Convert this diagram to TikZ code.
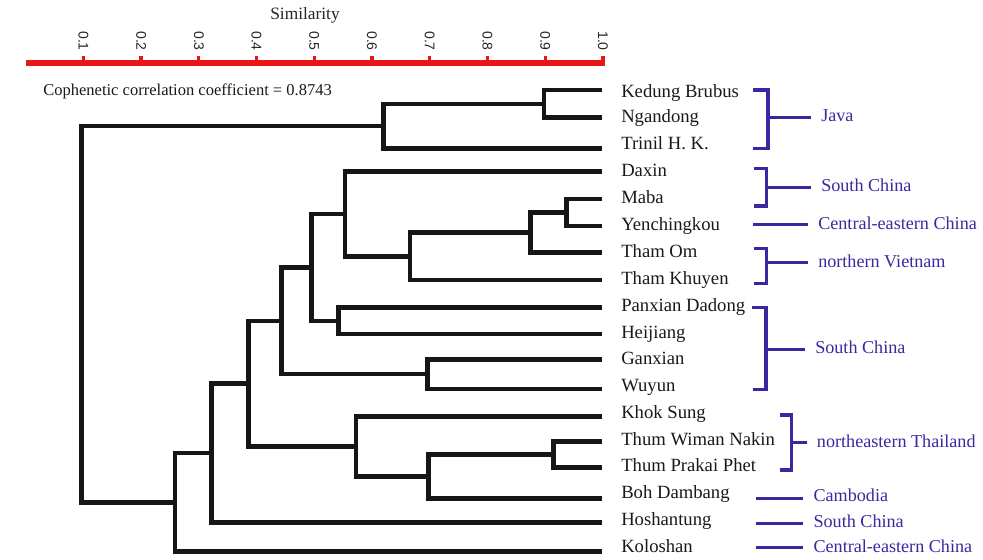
\documentclass[tikz,border=0pt]{standalone}
\usepackage{fontspec}
\setmainfont{Liberation Serif}
\newfontfamily\axisfont{Liberation Sans}
\definecolor{dendro}{RGB}{22,22,22}
\definecolor{axisred}{RGB}{232,22,22}
\definecolor{regblue}{RGB}{58,40,160}
\begin{document}
\begin{tikzpicture}[x=0.75pt,y=-0.75pt,
  tree/.style={draw=dendro,line width=3.4pt,line join=miter},
  axisline/.style={draw=axisred,line width=4.5pt},
  axistick/.style={draw=axisred,line width=2.4pt},
  ticklabel/.style={rotate=-90,font=\axisfont\fontsize{10.5}{12}\selectfont,inner sep=0pt,text=black!85},
  leaflabel/.style={anchor=west,font=\fontsize{14}{16}\selectfont,inner sep=0pt,text height=9.5pt,text depth=3pt,text=black!90},
  region/.style={anchor=west,font=\fontsize{13.6}{16}\selectfont,inner ysep=0pt,inner xsep=7.5pt,text height=9.5pt,text depth=3pt,text=regblue},
  bracket/.style={draw=regblue,line width=2.3pt,line join=miter}]
\useasboundingbox (0,0) rectangle (983,560);

% axis
\node[font=\fontsize{13}{15}\selectfont,text=black!85] (simtitle) at (305,15) {Similarity};
\coordinate (ax0) at (26,63.3);
\coordinate (ax1) at (604.5,63.3);
\draw[axisline] (ax0) -- (ax1);
\foreach \s/\t in {1/0.1,2/0.2,3/0.3,4/0.4,5/0.5,6/0.6,7/0.7,8/0.8,9/0.9,10/1.0}{
  \pgfmathsetmacro{\xx}{25.6+57.74*\s}
  \draw[axistick] (\xx,63) -- (\xx,56);
  \node[ticklabel] (tl\s) at (\xx,41) {\t};
}
\node[anchor=west,inner sep=0pt,font=\fontsize{12.4}{14}\selectfont,text=black!90] (coph) at (43,91.5) {Cophenetic correlation coefficient = 0.8743};

% leaves
\foreach \i/\ly/\ty/\name in {
 1/90/93/Kedung Brubus, 2/117.7/118/Ngandong, 3/148.3/145/Trinil H. K.,
 4/171.7/172/Daxin, 5/199/199/Maba, 6/226/226/Yenchingkou,
 7/252.7/253/Tham Om, 8/280/280/Tham Khuyen, 9/307.7/307/Panxian Dadong,
 10/334/334/Heijiang, 11/359.3/360/Ganxian, 12/389/387/Wuyun,
 13/416.7/414/Khok Sung, 14/441.7/441/Thum Wiman Nakin, 15/467.7/467/Thum Prakai Phet,
 16/498.3/494/Boh Dambang, 17/522.7/521/Hoshantung, 18/551.7/548/Koloshan}{
  \coordinate (L\i) at (602,\ly);
  \node[leaflabel] (lab\i) at (621,\ty) {\name};
}

% merge points
\coordinate (n1) at (544,103.9);
\coordinate (nJ) at (383.3,126);
\coordinate (n2) at (566.7,212.5);
\coordinate (n3) at (530.7,232.6);
\coordinate (n4) at (410,256.3);
\coordinate (n5) at (345,214);
\coordinate (n6) at (338.3,320.9);
\coordinate (nA) at (311.7,267.5);
\coordinate (n7) at (427.3,374.2);
\coordinate (nB) at (281.7,320.8);
\coordinate (n8) at (553.3,454.7);
\coordinate (n9) at (428.3,476.5);
\coordinate (n10) at (356,446.6);
\coordinate (nC) at (248.3,383.7);
\coordinate (nD) at (211.7,453.2);
\coordinate (nE) at (175,502.5);
\coordinate (root) at (81.7,314);

\draw[tree] (L1) -| (n1) |- (L2);
\draw[tree] (n1) -| (nJ) |- (L3);
\draw[tree] (L5) -| (n2) |- (L6);
\draw[tree] (n2) -| (n3) |- (L7);
\draw[tree] (n3) -| (n4) |- (L8);
\draw[tree] (L4) -| (n5) |- (n4);
\draw[tree] (L9) -| (n6) |- (L10);
\draw[tree] (n5) -| (nA) |- (n6);
\draw[tree] (L11) -| (n7) |- (L12);
\draw[tree] (nA) -| (nB) |- (n7);
\draw[tree] (L14) -| (n8) |- (L15);
\draw[tree] (n8) -| (n9) |- (L16);
\draw[tree] (L13) -| (n10) |- (n9);
\draw[tree] (nB) -| (nC) |- (n10);
\draw[tree] (nC) -| (nD) |- (L17);
\draw[tree] (nD) -| (nE) |- (L18);
\draw[tree] (nJ) -| (root) |- (nE);

% regions
\node[region] (r1) at (811,117.5) {Java};
\node[region] (r2) at (811,187.3) {South China};
\node[region] (r3) at (808,225) {Central-eastern China};
\node[region] (r4) at (808,263) {northern Vietnam};
\node[region] (r5) at (805,349.3) {South China};
\node[region] (r6) at (806.7,442.7) {northeastern Thailand};
\node[region] (r7) at (803.3,497.5) {Cambodia};
\node[region] (r8) at (803.3,523) {South China};
\node[region] (r9) at (803.3,548) {Central-eastern China};

\draw[bracket] (753,90) -- (768,90) -- (768,148.3) -- (753,148.3);
\draw[bracket] (768,117.5) -- (r1.west);
\draw[bracket] (754,168.3) -- (766.7,168.3) -- (766.7,206) -- (754,206);
\draw[bracket] (766.7,187.3) -- (r2.west);
\coordinate (b3) at (753,224.5);
\draw[bracket] (b3) -- (r3.west |- b3);
\draw[bracket] (754,248.3) -- (766.7,248.3) -- (766.7,283.3) -- (754,283.3);
\draw[bracket] (766.7,262.7) -- (r4.west |- 0,262.7);
\draw[bracket] (752,307.3) -- (766,307.3) -- (766,389.3) -- (753,389.3);
\draw[bracket] (766,349.3) -- (r5.west);
\draw[bracket] (780,415) -- (791.7,415) -- (791.7,470) -- (780,470);
\draw[bracket] (791.7,442.7) -- (r6.west);
\coordinate (b7) at (756,498.3);
\draw[bracket] (b7) -- (r7.west |- b7);
\coordinate (b8) at (756,523.3);
\draw[bracket] (b8) -- (r8.west |- b8);
\coordinate (b9) at (756,547.3);
\draw[bracket] (b9) -- (r9.west |- b9);
\end{tikzpicture}
\end{document}
